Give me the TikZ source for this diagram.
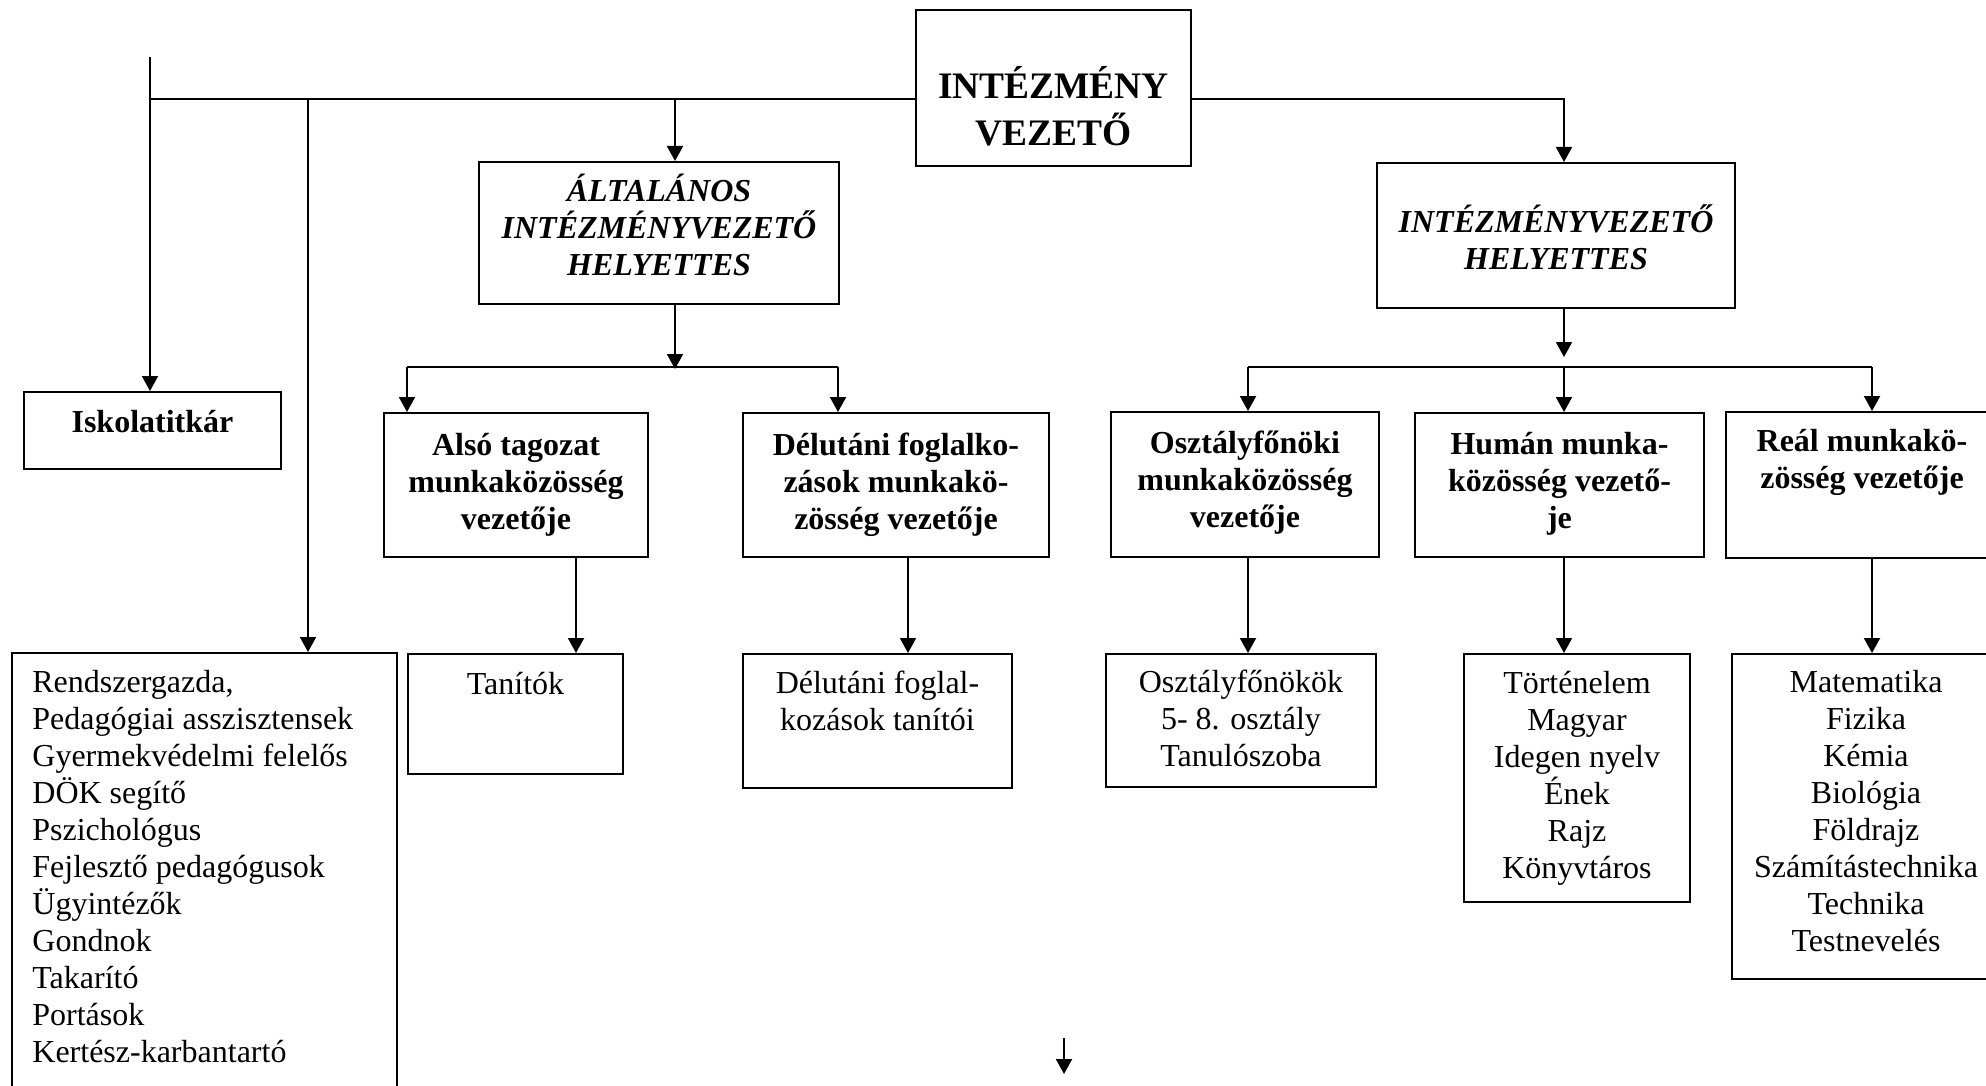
\documentclass[tikz,border=0pt]{standalone}
\usepackage{fontspec}
\setmainfont{Liberation Serif}
\usetikzlibrary{arrows.meta,fit}

\begin{document}
\begin{tikzpicture}[x=0.5pt,y=-0.5pt,
  box/.style={draw,line width=1pt,inner sep=0pt},
  link/.style={line width=1pt},
  arrow/.style={line width=1pt,-{Triangle[length=7.5pt,width=8pt]}},
  txt/.style={anchor=north,align=center,inner sep=0pt,font=\fontsize{16}{18.5}\selectfont},
  bold/.style={txt,font=\fontsize{16}{18.5}\selectfont\bfseries},
  bolditalic/.style={txt,font=\fontsize{16}{18.5}\selectfont\bfseries\itshape},
  title/.style={txt,font=\fontsize{18.7}{23.2}\selectfont\bfseries}]
\useasboundingbox (0,0) rectangle (1986,1086);

\node[box,fit={(916,10) (1191,166)},label={[title,yshift=-28.6pt]north:{INTÉZMÉNY\\VEZETŐ}}] (boss) {};
\node[box,fit={(479,162) (839,304)},label={[bolditalic,yshift=-6.5pt]north:{ÁLTALÁNOS\\INTÉZMÉNYVEZETŐ\\HELYETTES}}] (alt) {};
\node[box,fit={(1377,163) (1735,308)},label={[bolditalic,yshift=-21pt]north:{INTÉZMÉNYVEZETŐ\\HELYETTES}}] (hely) {};
\node[box,fit={(24,392) (281,469)},label={[bold,yshift=-9.3pt]north:{Iskolatitkár}}] (iskola) {};
\node[box,fit={(384,413) (648,557)},label={[bold,yshift=-10.5pt]north:{Alsó tagozat\\munkaközösség\\vezetője}}] (also) {};
\node[box,fit={(743,413) (1049,557)},label={[bold,yshift=-10.5pt]north:{Délutáni foglalko-\\zások munkakö-\\zösség vezetője}}] (delu) {};
\node[box,fit={(1111,412) (1379,557)},label={[bold,yshift=-10pt]north:{Osztályfőnöki\\munkaközösség\\vezetője}}] (osztf) {};
\node[box,fit={(1415,413) (1704,557)},label={[bold,yshift=-10pt]north:{Humán munka-\\közösség vezető-\\je}}] (human) {};
\node[box,fit={(1726,412) (1998,558)},label={[bold,yshift=-9pt]north:{Reál munkakö-\\zösség vezetője}}] (real) {};

\node[box,fit={(12,653) (397,1096)},label={[txt,align=left,anchor=north west,xshift=10.5pt,yshift=-9pt]north west:{Rendszergazda,\\Pedagógiai asszisztensek\\Gyermekvédelmi felelős\\DÖK segítő\\Pszichológus\\Fejlesztő pedagógusok\\Ügyintézők\\Gondnok\\Takarító\\Portások\\Kertész-karbantartó}}] (staff) {};
\node[box,fit={(408,654) (623,774)},label={[txt,yshift=-9.3pt]north:{Tanítók}}] (tanit) {};
\node[box,fit={(743,654) (1012,788)},label={[txt,yshift=-9pt]north:{Délutáni foglal-\\kozások tanítói}}] (delut) {};
\node[box,fit={(1106,654) (1376,787)},label={[txt,yshift=-8.5pt]north:{Osztályfőnökök\\5- 8. osztály\\Tanulószoba}}] (osztk) {};
\node[box,fit={(1464,654) (1690,902)},label={[txt,yshift=-9pt]north:{Történelem\\Magyar\\Idegen nyelv\\Ének\\Rajz\\Könyvtáros}}] (tort) {};
\node[box,fit={(1732,654) (2000,979)},label={[txt,yshift=-8.5pt]north:{Matematika\\Fizika\\Kémia\\Biológia\\Földrajz\\Számítástechnika\\Technika\\Testnevelés}}] (mat) {};

\coordinate (stub) at (150,57);
\coordinate (busL) at (150,99);
\coordinate (busR) at (1564,99);
\coordinate (s1) at (308,99);
\coordinate (a1) at (675,99);
\coordinate (a2) at (675,369);
\coordinate (b1) at (407,367);
\coordinate (b2) at (838,367);
\coordinate (c0) at (1564,357);
\coordinate (c1) at (1248,367);
\coordinate (c2) at (1564,367);
\coordinate (c3) at (1872,367);
\coordinate (d1) at (576,600);
\coordinate (d2) at (908,600);
\coordinate (d3) at (1248,600);
\coordinate (d4) at (1564,600);
\coordinate (d5) at (1872,600);
\coordinate (free1) at (1064,1038);
\coordinate (free2) at (1064,1074);

\draw[link] (busL) -- (busL -| boss.west);
\draw[arrow] (busR -| boss.east) -- (busR) -- (busR |- hely.north);
\draw[arrow] (stub) -- (stub |- iskola.north);
\draw[arrow] (s1) -- (s1 |- staff.north);
\draw[arrow] (a1) -- (a1 |- alt.north);
\draw[arrow] (a1 |- alt.south) -- (a2);
\draw[link] (b1) -- (b2);
\draw[arrow] (b1) -- (b1 |- also.north);
\draw[arrow] (b2) -- (b2 |- delu.north);
\draw[arrow] (c0 |- hely.south) -- (c0);
\draw[link] (c1) -- (c3);
\draw[arrow] (c1) -- (c1 |- osztf.north);
\draw[arrow] (c2) -- (c2 |- human.north);
\draw[arrow] (c3) -- (c3 |- real.north);
\draw[arrow] (d1 |- also.south) -- (d1 |- tanit.north);
\draw[arrow] (d2 |- delu.south) -- (d2 |- delut.north);
\draw[arrow] (d3 |- osztf.south) -- (d3 |- osztk.north);
\draw[arrow] (d4 |- human.south) -- (d4 |- tort.north);
\draw[arrow] (d5 |- real.south) -- (d5 |- mat.north);
\draw[arrow] (free1) -- (free2);
\end{tikzpicture}
\end{document}
